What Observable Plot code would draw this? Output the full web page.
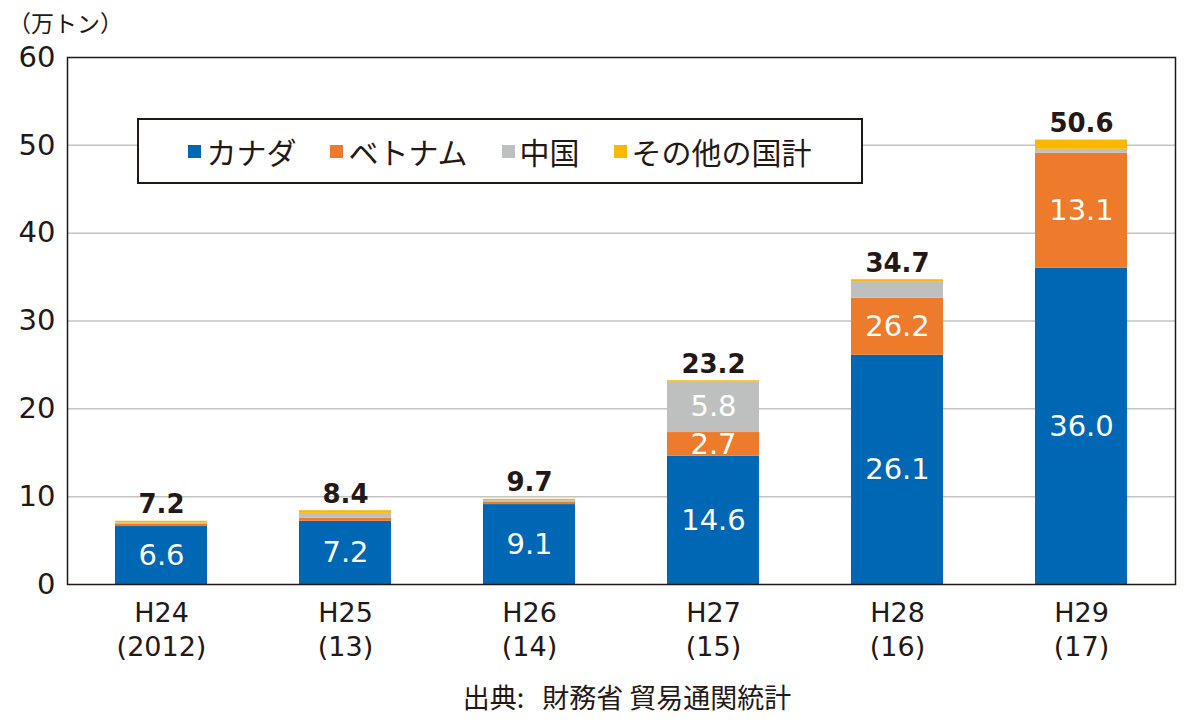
<!DOCTYPE html>
<html>
<head>
<meta charset="utf-8">
<script src="https://cdn.jsdelivr.net/npm/d3@7"></script>
<script src="https://cdn.jsdelivr.net/npm/@observablehq/plot@0.6"></script>
<style>
  html, body { margin: 0; padding: 0; background: #fff; }
  #wrap { position: relative; width: 1200px; height: 725px; font-family: 'DejaVu Sans', 'Noto Sans CJK JP', sans-serif; color: #231815; }
  #unit { position: absolute; left: 8px; top: 5px; font-family: 'Noto Sans CJK JP', sans-serif; font-size: 23px; }
  #legend { position: absolute; left: 137px; top: 118px; width: 722px; height: 62px; border: 2px solid #231815; background: #fff; display: flex; align-items: center; justify-content: center; font-family: 'Noto Sans CJK JP', sans-serif; font-size: 30px; }
  .item { display: flex; align-items: center; margin: 0 17px; }
  .sw { width: 13px; height: 13px; margin-right: 5px; }
  #caption { position: absolute; left: 0; width: 1254px; top: 677px; text-align: center; font-family: 'Noto Sans CJK JP', sans-serif; font-size: 27px; }
</style>
</head>
<body>
<div id="wrap">
  <div id="chart"></div>
  <div id="unit">（万トン）</div>
  <div id="legend"></div>
  <div id="caption">出典:&nbsp;&nbsp;&nbsp;財務省&nbsp;貿易通関統計</div>
</div>
<script>
const years = ["H24", "H25", "H26", "H27", "H28", "H29"];
const yearSub = ["2012", "13", "14", "15", "16", "17"];
const series = ["カナダ", "ベトナム", "中国", "その他の国計"];
const colors = ["#0067b4", "#ee7a2b", "#bebfbf", "#fbb800"];
const canada  = [6.6, 7.2, 9.1, 14.6, 26.1, 36.0];
const vietnam = [0.3, 0.35, 0.3, 2.7, 6.5, 13.1];
const china   = [0.1, 0.55, 0.15, 5.8, 1.8, 0.45];
const other   = [0.2, 0.3, 0.15, 0.1, 0.3, 1.05];
const totals  = [7.2, 8.4, 9.7, 23.2, 34.7, 50.6];
const canadaLabels  = ["6.6", "7.2", "9.1", "14.6", "26.1", "36.0"];
const vietnamLabels = [null, null, null, "2.7", "26.2", "13.1"];
const chinaLabels   = [null, null, null, "5.8", null, null];
const otherLabels   = [null, null, null, null, null, null];
const yTicks = [0, 10, 20, 30, 40, 50, 60];

const values = [canada, vietnam, china, other];
const labels = [canadaLabels, vietnamLabels, chinaLabels, otherLabels];
const rows = [];
years.forEach((yr, i) => {
  let base = 0;
  series.forEach((s, j) => {
    const v = values[j][i];
    rows.push({year: yr, series: s, y1: base, y2: base + v, label: labels[j][i]});
    base += v;
  });
});
const totalRows = years.map((yr, i) => ({year: yr, total: totals[i]}));
const subOf = Object.fromEntries(years.map((y, i) => [y, yearSub[i]]));

const plot = Plot.plot({
  width: 1200,
  height: 670,
  marginTop: 57,
  marginBottom: 86,
  marginLeft: 67,
  marginRight: 25,
  style: {fontFamily: "'DejaVu Sans', 'Noto Sans CJK JP', sans-serif", fontSize: "27px", color: "#231815", background: "transparent"},
  x: {domain: years, paddingInner: 0.5, paddingOuter: 0.25, label: null},
  y: {domain: [0, 60], label: null},
  color: {domain: series, range: colors},
  marks: [
    Plot.gridY([10, 20, 30, 40, 50], {stroke: "#c4c4c4", strokeOpacity: 1, strokeWidth: 1.5}),
    Plot.barY(rows, {x: "year", y1: "y1", y2: "y2", fill: "series"}),
    Plot.text(rows.filter(d => d.label), {x: "year", y: d => (d.y1 + d.y2) / 2, text: "label", fill: "white", fontSize: 29}),
    Plot.text(totalRows, {x: "year", y: "total", text: d => d.total.toFixed(1), lineAnchor: "bottom", dy: -8, fontWeight: "bold", fontSize: 26, fill: "#231815"}),
    Plot.axisY(yTicks, {tickSize: 0, tickPadding: 12, fontSize: 29, label: null}),
    Plot.axisX({tickSize: 0, tickPadding: 14, fontSize: 27, lineHeight: 1.25, label: null,
      tickFormat: d => `${d}\n(${subOf[d]})`}),
    Plot.frame({stroke: "#231815", strokeWidth: 1.5})
  ]
});
document.getElementById("chart").appendChild(plot);

const legend = document.getElementById("legend");
series.forEach((s, j) => {
  const it = document.createElement("div");
  it.className = "item";
  it.innerHTML = `<span class="sw" style="background:${colors[j]}"></span><span>${s}</span>`;
  legend.appendChild(it);
});
</script>
</body>
</html>
